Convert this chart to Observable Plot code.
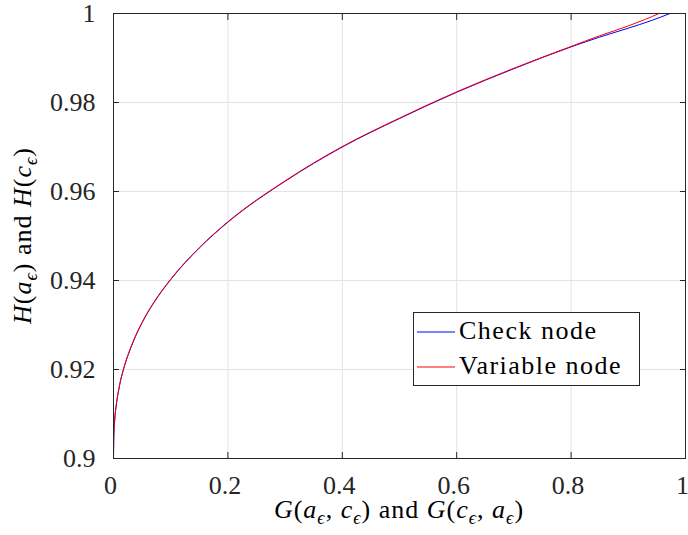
<!DOCTYPE html>
<html><head><meta charset="utf-8">
<script src="https://cdn.jsdelivr.net/npm/d3@7"></script>
<script src="https://cdn.jsdelivr.net/npm/@observablehq/plot@0.6"></script>
<style>
body{margin:0;background:#fff}
#chart{width:688px;height:535px}
</style>
</head><body><div id="chart"></div>
<script>
// ---- data ----
const checkX = [0, 0.0005, 0.002, 0.005, 0.01, 0.02, 0.03, 0.05, 0.07, 0.1, 0.15, 0.2, 0.3, 0.4, 0.5, 0.6, 0.7, 0.8, 0.85, 0.9, 0.94, 0.973];
const checkY = [0.9, 0.9048, 0.9084, 0.9121, 0.916, 0.9211, 0.9248, 0.9305, 0.9349, 0.9402, 0.9473, 0.9531, 0.9623, 0.9700, 0.9764, 0.9823, 0.9876, 0.9925, 0.9947, 0.9967, 0.9984, 1.0];
const varX = [0, 0.0005, 0.002, 0.005, 0.01, 0.02, 0.03, 0.05, 0.07, 0.1, 0.15, 0.2, 0.3, 0.4, 0.5, 0.6, 0.7, 0.8, 0.85, 0.9, 0.93, 0.954];
const varY = [0.9, 0.9049, 0.9085, 0.9122, 0.9161, 0.9212, 0.9249, 0.9306, 0.935, 0.9403, 0.9474, 0.9532, 0.9624, 0.9701, 0.9765, 0.9824, 0.9877, 0.9926, 0.995, 0.9972, 0.9987, 1.0];
const seriesNames = ["Check node", "Variable node"];
const seriesColors = ["#0000ff", "#ff0000"];
const xTicks = [0, 0.2, 0.4, 0.6, 0.8, 1];
const xTickLabels = ["0", "0.2", "0.4", "0.6", "0.8", "1"];
const yTicks = [0.9, 0.92, 0.94, 0.96, 0.98, 1];
const yTickLabels = ["0.9", "0.92", "0.94", "0.96", "0.98", "1"];

const checkRows = checkX.map((x, i) => ({x, y: checkY[i], s: seriesNames[0]}));
const varRows = varX.map((x, i) => ({x, y: varY[i], s: seriesNames[1]}));

const font = "'Liberation Serif', 'Times New Roman', serif";
const axisColor = "#262626";
const gridColor = "#e3e3e3";

const plot = Plot.plot({
  width: 688, height: 535,
  marginLeft: 113, marginRight: 3, marginTop: 13, marginBottom: 77,
  style: {fontFamily: font, fontSize: "26px", background: "#fff", color: axisColor},
  x: {domain: [0, 1]},
  y: {domain: [0.9, 1]},
  marks: [
    Plot.gridX(xTicks.slice(1, -1), {stroke: gridColor, strokeOpacity: 1}),
    Plot.gridY(yTicks.slice(1, -1), {stroke: gridColor, strokeOpacity: 1}),
    Plot.line(checkRows, {x: "x", y: "y", stroke: seriesColors[0], strokeWidth: 1, curve: "monotone-x"}),
    Plot.line(varRows, {x: "x", y: "y", stroke: seriesColors[1], strokeWidth: 1, curve: "monotone-x"}),
    Plot.frame({stroke: axisColor, strokeWidth: 1}),
    // inward ticks on all four sides
    Plot.axisX(xTicks, {anchor: "bottom", tickSize: 6, dy: -6, fill: "none", label: null, stroke: axisColor}),
    Plot.axisX(xTicks, {anchor: "top", tickSize: 6, dy: 6, fill: "none", label: null, stroke: axisColor}),
    Plot.axisY(yTicks, {anchor: "left", tickSize: 6, dx: 6, fill: "none", label: null, stroke: axisColor}),
    Plot.axisY(yTicks, {anchor: "right", tickSize: 6, dx: -6, fill: "none", label: null, stroke: axisColor}),
    // tick labels
    Plot.axisX(xTicks, {anchor: "bottom", tickSize: 0, tickPadding: 17, dx: -3, label: null, fill: axisColor,
      fontSize: 26, tickFormat: d => xTickLabels[xTicks.indexOf(d)]}),
    Plot.axisY(yTicks, {anchor: "left", tickSize: 0, tickPadding: 18, label: null, fill: axisColor,
      fontSize: 26, tickFormat: d => yTickLabels[yTicks.indexOf(d)]})
  ]
});

document.getElementById("chart").appendChild(plot);

const svg = d3.select(plot);
const [xr0, xr1] = plot.scale("x").range;
const [yr0, yr1] = plot.scale("y").range;

function mathText(sel, tokens, size) {
  let shifted = false;
  for (const tk of tokens) {
    const ts = sel.append("tspan").text(tk.t).style("font-family", font);
    if (tk.i) ts.style("font-style", "italic");
    if (tk.sub) {
      ts.style("font-size", (size * 0.7) + "px");
      if (!shifted) { ts.attr("dy", size * 0.22); shifted = true; }
    } else if (shifted) {
      ts.attr("dy", -size * 0.22); shifted = false;
    }
  }
}

const labelSize = 26;
const xLabel = svg.append("text")
  .attr("x", (xr0 + xr1) / 2).attr("y", 518)
  .attr("text-anchor", "middle")
  .style("font-family", font).style("font-size", labelSize + "px").style("letter-spacing", "1px")
  .attr("fill", "#000").style("white-space", "pre");
mathText(xLabel, [
  {t: "G", i: true}, {t: "("}, {t: "a", i: true}, {t: "ϵ", i: true, sub: true}, {t: ", "},
  {t: "c", i: true}, {t: "ϵ", i: true, sub: true}, {t: ")"}, {t: " and "},
  {t: "G", i: true}, {t: "("}, {t: "c", i: true}, {t: "ϵ", i: true, sub: true}, {t: ", "},
  {t: "a", i: true}, {t: "ϵ", i: true, sub: true}, {t: ")"}
], labelSize);

const yLabel = svg.append("text")
  .attr("transform", `translate(31,${(yr0 + yr1) / 2}) rotate(-90)`)
  .attr("text-anchor", "middle")
  .style("font-family", font).style("font-size", labelSize + "px").style("letter-spacing", "1px")
  .attr("fill", "#000").style("white-space", "pre");
mathText(yLabel, [
  {t: "H", i: true}, {t: "("}, {t: "a", i: true}, {t: "ϵ", i: true, sub: true}, {t: ")"}, {t: " and "},
  {t: "H", i: true}, {t: "("}, {t: "c", i: true}, {t: "ϵ", i: true, sub: true}, {t: ")"}
], labelSize);

// legend
const lg = svg.append("g");
lg.append("rect").attr("x", 413.5).attr("y", 312.5).attr("width", 226).attr("height", 73)
  .attr("fill", "#fff").attr("stroke", axisColor).attr("stroke-width", 1);
seriesNames.forEach((name, i) => {
  const cy = 332 + i * 35;
  lg.append("line").attr("x1", 417).attr("x2", 455).attr("y1", cy).attr("y2", cy)
    .attr("stroke", seriesColors[i]).attr("stroke-width", 1);
  lg.append("text").attr("x", 459).attr("y", cy + 7)
    .style("font-family", font).style("font-size", "26px").style("letter-spacing", "1.5px")
    .attr("text-anchor", "start").attr("fill", "#000").text(name);
});
</script>
</body></html>
